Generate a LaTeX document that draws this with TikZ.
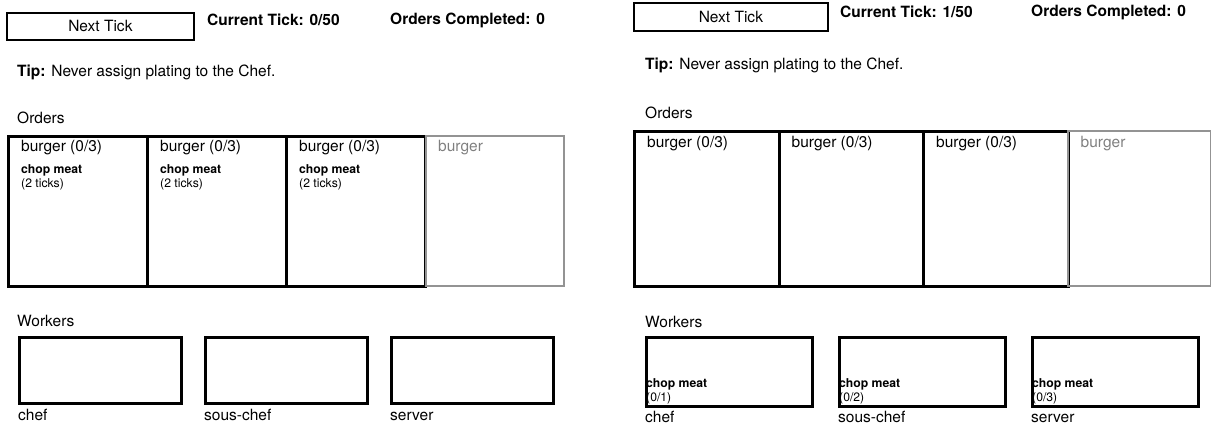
\documentclass[tikz,border=0pt]{standalone}
\usepackage{fontspec}
\setmainfont{TeX Gyre Heros}
\usetikzlibrary{positioning}
\newcommand{\bigtxt}{\fontsize{15.5}{18}\selectfont}
\newcommand{\smalltxt}{\fontsize{12.2}{14}\selectfont}

\begin{document}
\begin{tikzpicture}[x=1pt,y=-1pt]
        \tikzset{
            txt/.style = {
                inner sep = 0pt,
                anchor = west,
                font = \bigtxt},
            head/.style = {txt, font = \bigtxt\bfseries},
            tickbtn/.style = {
                draw,
                line width = 1.8pt,
                inner sep = 0pt,
                anchor = north west,
                font = \bigtxt},
            card/.style = {
                draw,
                line width = 3pt,
                inner sep = 0pt,
                anchor = north west},
            ghostcard/.style = {card, draw = gray!85, line width = 2.4pt},
            worker/.style = {
                draw,
                line width = 2.5pt,
                inner sep = 0pt,
                anchor = north west},
            task/.style = {
                inner sep = 0pt,
                align = left,
                font = \smalltxt}
                }
    \useasboundingbox (0,0) rectangle (1211,425);
    % left screen
    \node[tickbtn, minimum width = 187, minimum height = 27] (tickL) at (6,12) {Next Tick};
    \node[head] (curL) at (207,20) {Current Tick: 0/50};
    \node[head] (doneL) at (390,20) {Orders Completed: 0};
    \node[txt] (tipL) at (17,72) {\textbf{Tip:} Never assign plating to the Chef.};
    \node[txt] (ordL) at (17,118) {Orders};
    \foreach \i in {1,2,3} {
        \node[card, minimum width = 139, minimum height = 150] (oL\i) at ({7+139*(\i-1)},135) {};
        \node[txt, below right = 17pt and 14pt of oL\i.north west, anchor = base west] (tL\i) {burger (0/3)};
        \node[task, below right = 12pt and 0pt of tL\i.base west] (kL\i) {\textbf{chop meat}\\(2 ticks)};
    }
    \node[ghostcard, minimum width = 138, minimum height = 150] (oL4) at (425,135) {};
    \node[txt, text = gray, below right = 17pt and 13pt of oL4.north west, anchor = base west] (tL4) {burger};
    \node[txt] (wrkL) at (17,321) {Workers};
    \foreach \w/\name [count=\k] in {chef/chef, sous/sous-chef, serv/server} {
        \node[worker, minimum width = 162, minimum height = 66] (wL\w) at ({18+186*(\k-1)},336) {};
        \node[txt, below right = 16pt and 0pt of wL\w.south west, anchor = base west] (nL\w) {\name};
    }
    % right screen
    \node[tickbtn, minimum width = 194, minimum height = 28] (tickR) at (633,2) {Next Tick};
    \node[head] (curR) at (840,12) {Current Tick: 1/50};
    \node[head] (doneR) at (1031,12) {Orders Completed: 0};
    \node[txt] (tipR) at (645,65) {\textbf{Tip:} Never assign plating to the Chef.};
    \node[txt] (ordR) at (645,113) {Orders};
    \foreach \i in {1,2,3} {
        \node[card, minimum width = 144.5, minimum height = 155] (oR\i) at ({633+144.5*(\i-1)},130) {};
        \node[txt, below right = 18pt and 14pt of oR\i.north west, anchor = base west] (tR\i) {burger (0/3)};
    }
    \node[ghostcard, minimum width = 143, minimum height = 155] (oR4) at (1066.5,130) {};
    \node[txt, text = gray, below right = 18pt and 14pt of oR4.north west, anchor = base west] (tR4) {burger};
    \node[txt] (wrkR) at (645,322) {Workers};
    \foreach \w/\name/\n [count=\k] in {chef/chef/1, sous/sous-chef/2, serv/server/3} {
        \node[worker, minimum width = 166, minimum height = 69] (wR\w) at ({645+193*(\k-1)},336) {};
        \node[task, above right = 3pt and 1pt of wR\w.south west] (kR\w) {\textbf{chop meat}\\(0/\n)};
        \node[txt, below right = 14.5pt and 0pt of wR\w.south west, anchor = base west] (nR\w) {\name};
    }
    \end{tikzpicture}
\end{document}
